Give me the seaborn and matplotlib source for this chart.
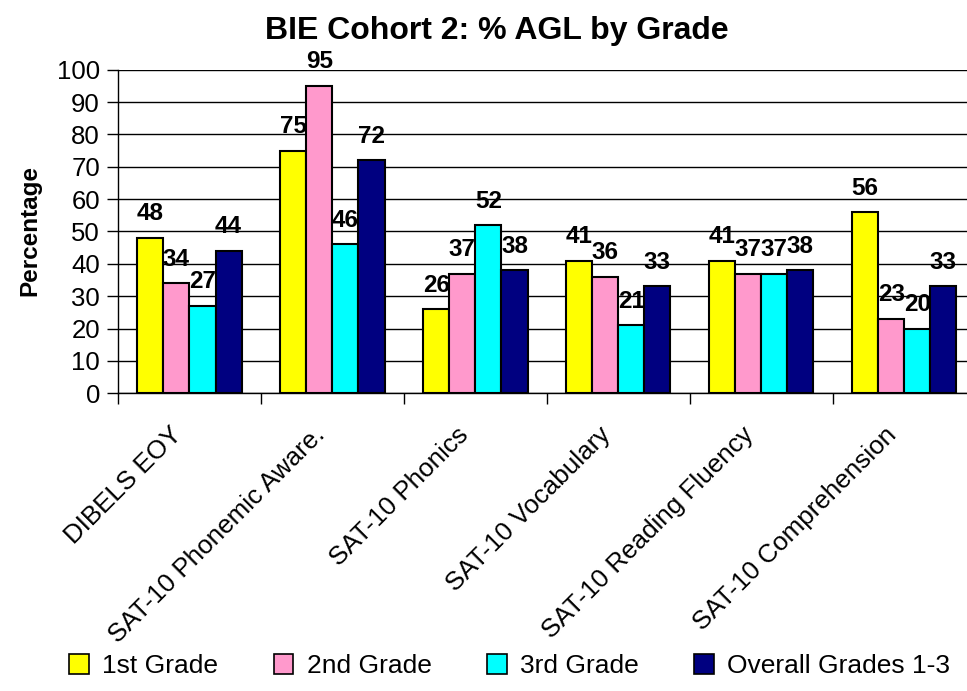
import matplotlib
matplotlib.use("Agg")
import matplotlib.pyplot as plt
import pandas as pd
import seaborn as sns
from matplotlib.patches import Patch

# ── Data ──────────────────────────────────────────────────────────────────────
CATEGORIES = ["DIBELS EOY", "SAT-10 Phonemic Aware.", "SAT-10 Phonics",
              "SAT-10 Vocabulary", "SAT-10 Reading Fluency", "SAT-10 Comprehension"]
GRADES = ["1st Grade", "2nd Grade", "3rd Grade", "Overall Grades 1-3"]
GRADE_1 = [48, 75, 26, 41, 41, 56]
GRADE_2 = [34, 95, 37, 36, 37, 23]
GRADE_3 = [27, 46, 52, 21, 37, 20]
OVERALL = [44, 72, 38, 33, 38, 33]
COLORS = ["#FFFF00", "#FF99CC", "#00FFFF", "#000080"]
Y_TICKS = list(range(0, 101, 10))

df = pd.DataFrame({
    "test": CATEGORIES * 4,
    "grade": [g for g in GRADES for _ in CATEGORIES],
    "pct": GRADE_1 + GRADE_2 + GRADE_3 + OVERALL,
})

sns.set_theme(style="white")
plt.rcParams["font.family"] = ["Liberation Sans", "DejaVu Sans"]
plt.rcParams.update({"text.color": "black", "axes.labelcolor": "black",
                     "xtick.color": "black", "ytick.color": "black"})

fig = plt.figure(figsize=(9.67, 6.91), dpi=100)
ax = fig.add_axes([0.122, 0.431, 0.887, 0.468])

sns.barplot(data=df, x="test", y="pct", hue="grade", hue_order=GRADES,
            order=CATEGORIES, palette=COLORS, saturation=1, width=0.73,
            edgecolor="black", linewidth=1.5, legend=False, ax=ax)

# ── Axes styling ──────────────────────────────────────────────────────────────
ax.set_xlim(-0.5, 5.5)
ax.set_ylim(0, 100)
ax.set_yticks(Y_TICKS)
ax.set_yticklabels([str(t) for t in Y_TICKS], fontsize=18.5)
ax.yaxis.grid(True, color="black", linewidth=1)
ax.set_axisbelow(True)
for side in ["top", "right"]:
    ax.spines[side].set_visible(False)
for side in ["left", "bottom"]:
    ax.spines[side].set_color("black")
    ax.spines[side].set_linewidth(1)
ax.tick_params(axis="y", which="major", direction="out", length=8, width=1,
               color="black", pad=5, left=True)

# category ticks sit on group boundaries; labels drawn separately, rotated
ax.set_xticks([i - 0.5 for i in range(len(CATEGORIES))])
ax.set_xticklabels([])
ax.tick_params(axis="x", which="major", direction="out", length=8, width=1,
               color="black", bottom=True)
for i, cat in enumerate(CATEGORIES):
    ax.annotate(cat, xy=(i, 0), xycoords=("data", "axes fraction"),
                xytext=(-11, -38), textcoords="offset pixels",
                rotation=45, ha="right", va="center", rotation_mode="anchor",
                fontsize=18.7)
ax.set_xlabel("")
ax.set_ylabel("")

# ── Value labels ──────────────────────────────────────────────────────────────
for cont in ax.containers:
    ax.bar_label(cont, fmt="%.0f", padding=9, fontsize=17.5, fontweight="bold")

# ── Titles & legend ───────────────────────────────────────────────────────────
fig.text(0.514, 0.955, "BIE Cohort 2: % AGL by Grade", ha="center",
         va="center", fontsize=23, fontweight="bold")
fig.text(0.031, 0.667, "Percentage", ha="center", va="center", rotation=90,
         fontsize=17.5, fontweight="bold")

handles = [Patch(facecolor=c, edgecolor="black", linewidth=1.2) for c in COLORS]
fig.legend(handles, GRADES, loc="center", bbox_to_anchor=(0.527, 0.036),
           ncol=4, frameon=False, fontsize=19, handlelength=0.75,
           handleheight=0.75, handletextpad=0.5, columnspacing=2.1)

fig.savefig("out.png", dpi=100)
plt.close(fig)
